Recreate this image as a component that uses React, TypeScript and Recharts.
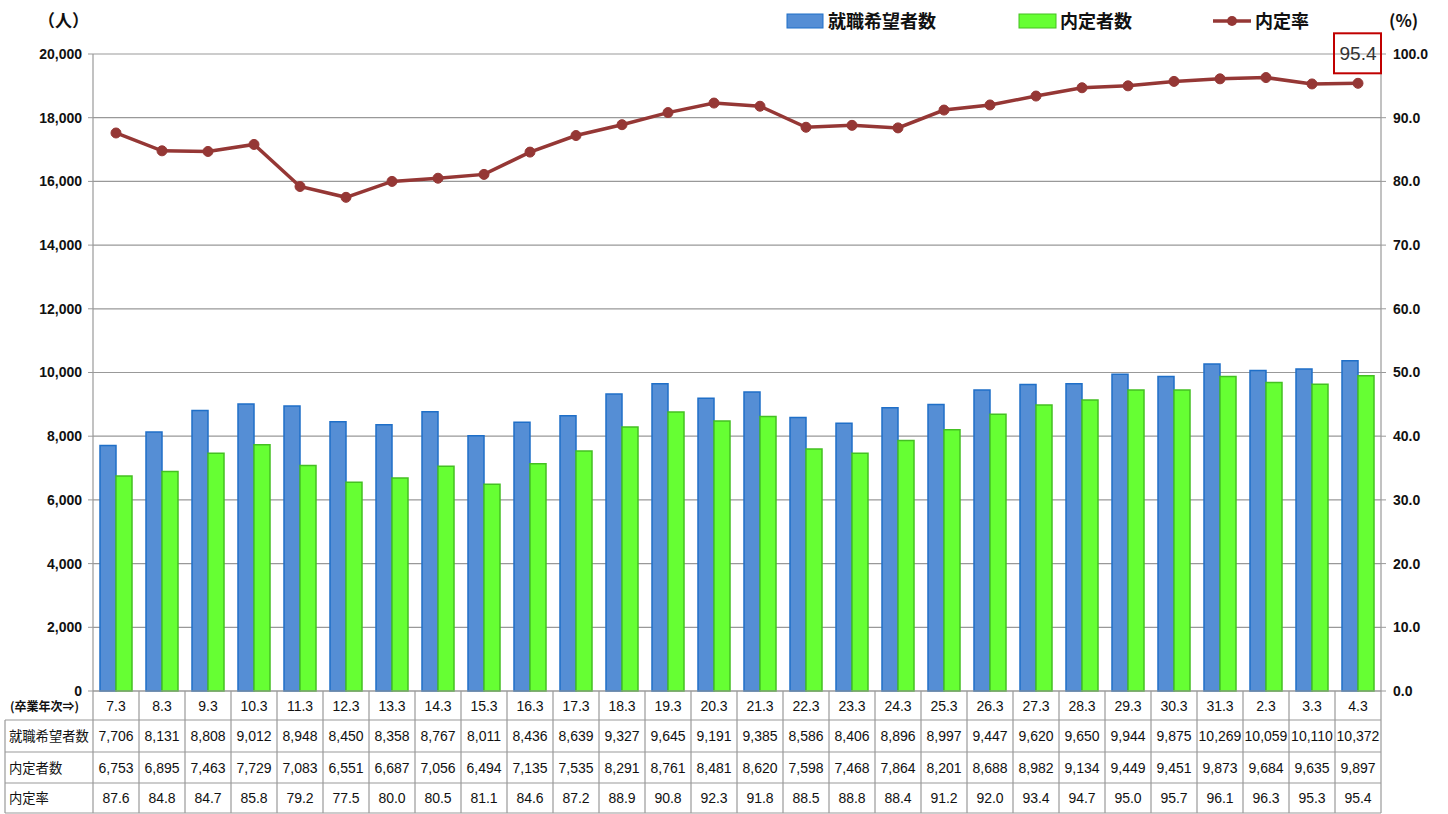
import React from 'react';
import { ComposedChart, Bar, Line, XAxis, YAxis, CartesianGrid, LabelList } from 'recharts';

const categories = ['7.3','8.3','9.3','10.3','11.3','12.3','13.3','14.3','15.3','16.3','17.3','18.3','19.3','20.3','21.3','22.3','23.3','24.3','25.3','26.3','27.3','28.3','29.3','30.3','31.3','2.3','3.3','4.3'];
const applicants = [7706,8131,8808,9012,8948,8450,8358,8767,8011,8436,8639,9327,9645,9191,9385,8586,8406,8896,8997,9447,9620,9650,9944,9875,10269,10059,10110,10372];
const hired = [6753,6895,7463,7729,7083,6551,6687,7056,6494,7135,7535,8291,8761,8481,8620,7598,7468,7864,8201,8688,8982,9134,9449,9451,9873,9684,9635,9897];
const rate = [87.6,84.8,84.7,85.8,79.2,77.5,80.0,80.5,81.1,84.6,87.2,88.9,90.8,92.3,91.8,88.5,88.8,88.4,91.2,92.0,93.4,94.7,95.0,95.7,96.1,96.3,95.3,95.4];
const leftTicks = [0,2000,4000,6000,8000,10000,12000,14000,16000,18000,20000];
const rightTicks = [0,10,20,30,40,50,60,70,80,90,100];
const seriesNames = ['就職希望者数','内定者数','内定率'];
const rowLabels = ['(卒業年次⇒)','就職希望者数','内定者数','内定率'];

const data = categories.map((c, i) => ({ cat: c, applicants: applicants[i], hired: hired[i], rate: rate[i] }));

const W = 1448, H = 814;
const LEFT = 93, RIGHT = 67, TOP = 54, BOTTOM = 123;
const PLOT_W = W - LEFT - RIGHT;
const AXIS_Y = H - BOTTOM;
const N = categories.length;
const ROWS = [AXIS_Y, 720, 752, 783, 813];

const BLUE = '#558ED5', BLUE_S = '#1F6FC8';
const GREEN = '#66FF33', GREEN_S = '#44C022';
const RED = '#953735';
const GRID = '#999999';
const NUM_FONT = '"Liberation Sans Narrow", "Liberation Sans", sans-serif';
const JP_FONT = '"Noto Sans CJK JP", sans-serif';

const TableTick = (props: any) => {
  const { x, payload } = props;
  const i = payload.index;
  const bw = PLOT_W / N;
  const l = x - bw / 2, r = x + bw / 2;
  const vals = [categories[i], applicants[i].toLocaleString('en-US'), hired[i].toLocaleString('en-US'), rate[i].toFixed(1)];
  return (
    <g>
      <line x1={r} x2={r} y1={ROWS[0]} y2={ROWS[4]} stroke={GRID} strokeWidth={1.2} />
      {i === 0 && <line x1={l} x2={l} y1={ROWS[0]} y2={ROWS[4]} stroke={GRID} strokeWidth={1.2} />}
      {ROWS.slice(1).map((ry, k) => (
        <line key={k} x1={l} x2={r} y1={ry} y2={ry} stroke={GRID} strokeWidth={1.2} />
      ))}
      {vals.map((v, k) => (
        <text key={k} x={x} y={(ROWS[k] + ROWS[k + 1]) / 2 + 5} textAnchor="middle" fontSize={14} fontFamily={NUM_FONT} fill="#111">{v}</text>
      ))}
      {i === 0 && (
        <g>
          <line x1={5} x2={5} y1={ROWS[1]} y2={ROWS[4]} stroke={GRID} strokeWidth={1.2} />
          {ROWS.slice(1).map((ry, k) => (
            <line key={'h' + k} x1={5} x2={l} y1={ry} y2={ry} stroke={GRID} strokeWidth={1.2} />
          ))}
          <text x={10} y={(ROWS[0] + ROWS[1]) / 2 + 5} fontSize={12} fontWeight="bold" fontFamily={JP_FONT} fill="#111">{rowLabels[0]}</text>
          {rowLabels.slice(1).map((t, k) => (
            <text key={'t' + k} x={9} y={(ROWS[k + 1] + ROWS[k + 2]) / 2 + 5} fontSize={13.3} fontFamily={JP_FONT} fill="#111">{t}</text>
          ))}
        </g>
      )}
    </g>
  );
};

const RateLabel = (p: any) => {
  if (p.index !== N - 1) return null;
  const { x, y } = p;
  return (
    <g>
      <rect x={x - 24} y={y - 50} width={47} height={40} fill="none" stroke="#C00000" strokeWidth={2} />
      <text x={x} y={y - 23} textAnchor="middle" fontSize={19} fontFamily={NUM_FONT} fill="#333">{rate[N - 1].toFixed(1)}</text>
    </g>
  );
};

export default function App() {
  return (
    <div style={{ position: 'absolute', left: 0, top: 0, width: W, height: H, background: '#fff' }}>
      <ComposedChart width={W} height={H} data={data} margin={{ top: TOP, right: 0, bottom: 1, left: 0 }} barGap={0} barSize={16}>
        <CartesianGrid vertical={false} stroke={GRID} strokeWidth={1.2} yAxisId="left" />
        <XAxis dataKey="cat" height={BOTTOM - 1} interval={0} tickLine={false} axisLine={{ stroke: GRID, strokeWidth: 1.2 }} tick={(p: any) => <TableTick {...p} />} />
        <YAxis yAxisId="left" width={LEFT} domain={[0, 20000]} ticks={leftTicks} interval={0}
          tickFormatter={(v: number) => v.toLocaleString('en-US')}
          tick={{ fontSize: 14, fontWeight: 'bold', fill: '#111', fontFamily: NUM_FONT }}
          tickSize={5} tickMargin={6} axisLine={{ stroke: GRID, strokeWidth: 1.2 }} tickLine={{ stroke: GRID }} />
        <YAxis yAxisId="right" orientation="right" width={RIGHT} domain={[0, 100]} ticks={rightTicks} interval={0}
          tickFormatter={(v: number) => v.toFixed(1)}
          tick={{ fontSize: 14, fontWeight: 'bold', fill: '#111', fontFamily: NUM_FONT, textAnchor: 'start' }}
          tickSize={5} tickMargin={7} axisLine={{ stroke: GRID, strokeWidth: 1.2 }} tickLine={{ stroke: GRID }} />
        <Bar yAxisId="left" dataKey="applicants" name={seriesNames[0]} fill={BLUE} stroke={BLUE_S} strokeWidth={1.5} isAnimationActive={false} />
        <Bar yAxisId="left" dataKey="hired" name={seriesNames[1]} fill={GREEN} stroke={GREEN_S} strokeWidth={1.5} isAnimationActive={false} />
        <Line yAxisId="right" dataKey="rate" name={seriesNames[2]} stroke={RED} strokeWidth={3.5} dot={{ r: 5, fill: RED, stroke: RED, strokeWidth: 1 }} isAnimationActive={false}>
          <LabelList dataKey="rate" content={(p: any) => <RateLabel {...p} />} />
        </Line>
      </ComposedChart>
      <svg width={W} height={50} style={{ position: 'absolute', left: 0, top: 0, pointerEvents: 'none' }}>
        <text x={38} y={27} fontSize={17} fontWeight="bold" fontFamily={JP_FONT} fill="#111">（人）</text>
        <rect x={787} y={14} width={36} height={14} fill={BLUE} stroke={BLUE_S} strokeWidth={1} />
        <text x={828} y={28} fontSize={18} fontWeight="bold" fontFamily={JP_FONT} fill="#111">{seriesNames[0]}</text>
        <rect x={1019} y={14} width={37} height={14} fill={GREEN} stroke={GREEN_S} strokeWidth={1} />
        <text x={1060} y={28} fontSize={18} fontWeight="bold" fontFamily={JP_FONT} fill="#111">{seriesNames[1]}</text>
        <line x1={1213} x2={1251} y1={21} y2={21} stroke={RED} strokeWidth={3.5} />
        <circle cx={1232} cy={21} r={5} fill={RED} />
        <text x={1255} y={28} fontSize={18} fontWeight="bold" fontFamily={JP_FONT} fill="#111">{seriesNames[2]}</text>
        <text x={1389} y={27} fontSize={17} fontWeight="bold" fontFamily={JP_FONT} fill="#111">(%)</text>
      </svg>
    </div>
  );
}
